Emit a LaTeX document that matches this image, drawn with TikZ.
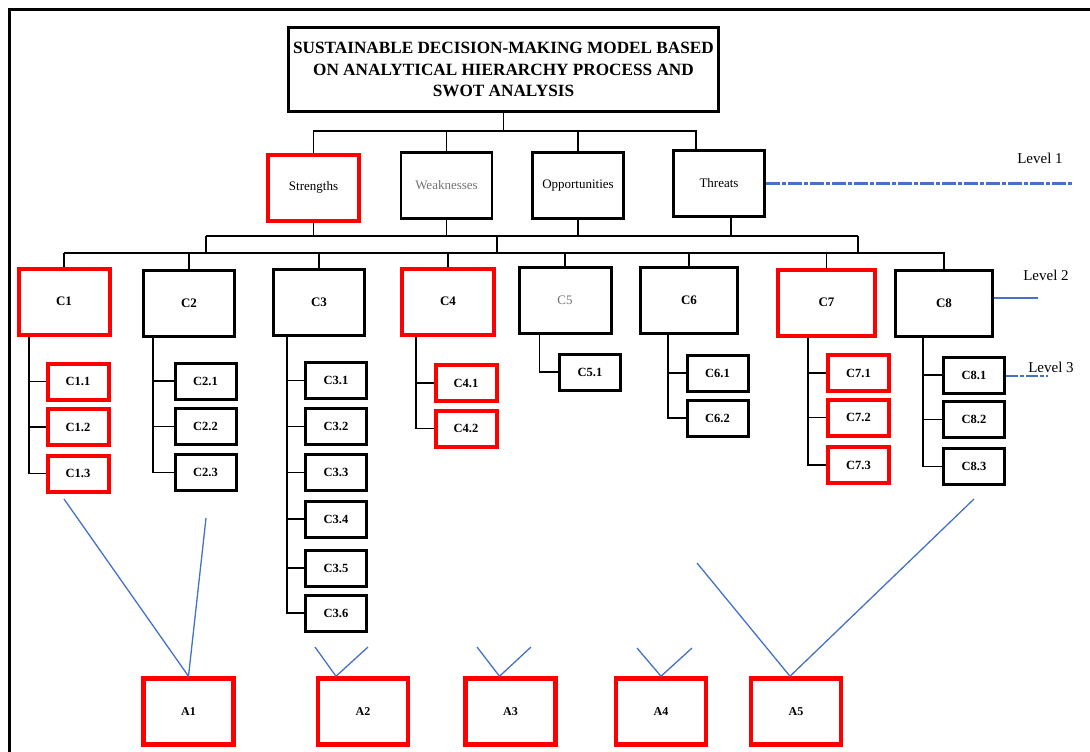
\documentclass[tikz,border=0pt]{standalone}
\usepackage{fontspec}
\setmainfont{Liberation Serif}

\definecolor{guideblue}{RGB}{68,114,196}

\begin{document}
\begin{tikzpicture}[
x=1pt, y=-1pt,
boxed/.style={
  draw,
  line width=3pt,
  inner sep=0pt,
  fill=white
  },
marked/.style={
  boxed,
  draw=red,
  line width=4pt
  },
faded/.style={
  boxed,
  text=black!55,
  font=\fontsize{13}{15}\selectfont
  },
swot/.style={
  minimum width=91pt,
  minimum height=66pt,
  font=\fontsize{13}{15}\selectfont
  },
crit/.style={
  minimum height=66pt,
  font=\bfseries\fontsize{13}{15}\selectfont
  },
subcrit/.style={
  minimum width=61pt,
  minimum height=36pt,
  font=\bfseries\fontsize{12.5}{15}\selectfont
  },
alt/.style={
  marked,
  line width=4.5pt,
  minimum width=90pt,
  minimum height=66pt,
  font=\bfseries\fontsize{12}{14}\selectfont
  },
link/.style={line width=1.6pt},
guide/.style={draw=guideblue, line width=1.3pt},
level/.style={font=\fontsize{15}{17}\selectfont}
]
\useasboundingbox (0,0) rectangle (1090,752);
\draw[line width=3pt] (9.5,752) -- (9.5,9.5) -- (1090,9.5);

% goal
\node[boxed, minimum width=430pt, minimum height=84pt, align=center,
  font=\bfseries\fontsize{17.2}{21.5}\selectfont] (title) at (503.5,69.5)
  {SUSTAINABLE DECISION-MAKING MODEL BASED\\ON ANALYTICAL HIERARCHY PROCESS AND\\SWOT ANALYSIS};

% level 1
\node[swot, marked] (str) at (313.5,187.5) {Strengths};
\node[swot, faded, line width=2.5pt] (weak) at (446.5,185.5) {Weaknesses};
\node[swot, boxed, line width=3.5pt] (opp) at (578,185.5) {Opportunities};
\node[swot, boxed] (thr) at (719,183.5) {Threats};

% level 2
\foreach \c/\x/\y/\w/\s in {1/64/301.5/91/marked, 2/189/303.5/91/boxed, 3/319/302/91/boxed,
  4/448/301.5/92/marked, 5/565/300/92/faded, 6/689/300.5/97/boxed,
  7/826.5/302.5/97/marked, 8/944/303.5/97/boxed}
  \node[crit, \s, minimum width=\w pt] (c\c) at (\x,\y) {C\c};

% level 3
\foreach \y [count=\k] in {381.5,427,473.5}
  \node[subcrit, marked] (c1-\k) at (78,\y) {C1.\k};
\foreach \y [count=\k] in {381,426.5,472.5}
  \node[subcrit, boxed] (c2-\k) at (205.5,\y) {C2.\k};
\foreach \y [count=\k] in {380.5,426.5,472.5,519,568,613}
  \node[subcrit, boxed] (c3-\k) at (336,\y) {C3.\k};
\foreach \y [count=\k] in {383,428.5}
  \node[subcrit, marked] (c4-\k) at (466,\y) {C4.\k};
\foreach \y [count=\k] in {372}
  \node[subcrit, boxed] (c5-\k) at (590,\y) {C5.\k};
\foreach \y [count=\k] in {373,418}
  \node[subcrit, boxed] (c6-\k) at (717.5,\y) {C6.\k};
\foreach \y [count=\k] in {373,417.5,465}
  \node[subcrit, marked] (c7-\k) at (858.5,\y) {C7.\k};
\foreach \y [count=\k] in {375,419.5,466.5}
  \node[subcrit, boxed] (c8-\k) at (974,\y) {C8.\k};

% alternatives
\foreach \a/\x in {1/188.5,2/363,3/510.5,4/661,5/796}
  \node[alt] (a\a) at (\x,711.5) {A\a};

% tree
\coordinate (bus0w) at (314,131);
\coordinate (bus0e) at (696,131);
\coordinate (bus1w) at (206,236);
\coordinate (bus1m) at (497,236);
\coordinate (bus1e) at (858,236);
\coordinate (thrdrop) at (731,236);
\coordinate (bus2w) at (64,253);
\coordinate (bus2e) at (945,253);
\draw[link] (title.south) -- (title.south |- bus0w);
\draw[link] (str.north) |- (bus0e) -- (bus0e |- thr.north);
\foreach \s in {weak,opp}
  \draw[link] (\s.north) -- (\s.north |- bus0w);
\foreach \s in {str,weak,opp}
  \draw[link] (\s.south) -- (\s.south |- bus1w);
\draw[link] (thrdrop |- thr.south) -- (thrdrop);
\draw[link] (bus1w) -- (bus1e);
\foreach \b in {bus1w,bus1m,bus1e}
  \draw[link] (\b) -- (\b |- bus2w);
\draw[link] (bus2w) -- (bus2e);
\foreach \c in {1,...,8}
  \draw[link] (c\c.north) -- (c\c.north |- bus2w);
\foreach \c/\dx/\n in {1/12.5/3, 2/11/3, 3/15/6, 4/16/2, 5/22/1, 6/29/2, 7/32/3, 8/29/3}
{\foreach \k in {1,...,\n}
  \draw[link] ([xshift=\dx pt]c\c.south west) |- (c\c-\k.west);
}

% alternatives to criteria
\coordinate (l1) at (64,499);   \coordinate (r1) at (206,518);
\coordinate (l2) at (315,647);  \coordinate (r2) at (368,647);
\coordinate (l3) at (477,647);  \coordinate (r3) at (531,647);
\coordinate (l4) at (637,648);  \coordinate (r4) at (692,648);
\coordinate (l5) at (697,563);  \coordinate (r5) at (974,499);
\foreach \a/\dx in {1/0,2/-27,3/-11,4/0,5/-6}
  \draw[guide] (l\a) -- ([xshift=\dx pt]a\a.north) -- (r\a);

% levels
\node[level] (lv1) at (1040,158) {Level 1};
\node[level] (lv2) at (1046,275) {Level 2};
\node[level] (lv3) at (1051,367) {Level 3};
\coordinate (lv1end) at (1073,183.5);
\coordinate (lv2end) at (1038,298);
\coordinate (lv3end) at (1048,376);
\draw[guide, line width=2.2pt, dash pattern=on 14pt off 2pt on 4pt off 2pt] (thr.east) -- (lv1end);
\draw[guide] (lv2end -| c8.east) -- (lv2end);
\draw[guide, dash pattern=on 12pt off 2pt on 4pt off 2pt] (lv3end -| c8-1.east) -- (lv3end);
\end{tikzpicture}
\end{document}
